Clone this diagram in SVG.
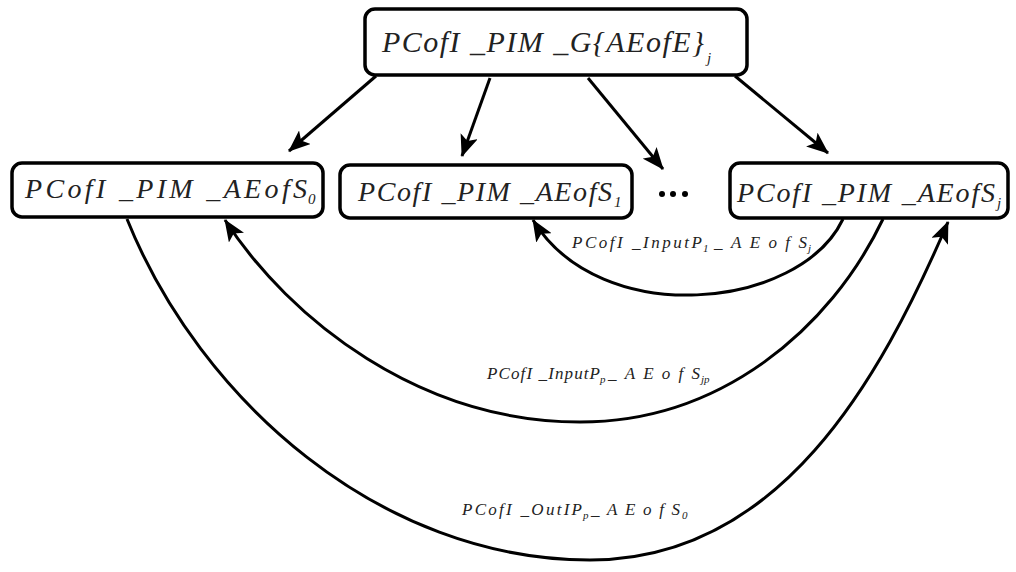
<svg xmlns="http://www.w3.org/2000/svg" width="1016" height="572" viewBox="0 0 1016 572">
<style>
.box{fill:#fff;stroke:#000;stroke-width:3.5}
.t{font-family:"Liberation Serif",serif;font-style:italic;fill:#222}
.big{font-size:28px}
.top{font-size:30px}
.bsub{font-size:15px}
.sm{font-size:17px}
.ssub{font-size:11px}
.edge{fill:none;stroke:#000;stroke-width:3;marker-end:url(#ah)}
</style>
<defs>
<marker id="ah" markerUnits="userSpaceOnUse" viewBox="0 0 22 18" markerWidth="22" markerHeight="18" refX="21" refY="9" orient="auto">
<path d="M0,0 L22,9 L0,18 L5,9 z" fill="#000"/>
</marker>
</defs>
<rect width="1016" height="572" fill="#fff"/>
<g id="connectors">
<line class="edge" x1="376" y1="76" x2="289" y2="151"/>
<line class="edge" x1="490" y1="78" x2="462" y2="156"/>
<line class="edge" x1="588" y1="78" x2="663" y2="169"/>
<line class="edge" x1="735" y1="76" x2="828" y2="153"/>
<path class="edge" d="M843,219 C800,310 600,330 533,220"/>
<path class="edge" d="M883,219 C830,330 720,422 580,422 C420,422 290,320 225,220"/>
<path class="edge" d="M127,219 C200,400 380,560 590,560 C780,560 880,380 948,222"/>
<text class="t sm" x="572" y="248" textLength="130" lengthAdjust="spacing">PCofI _InputP</text>
<text class="t ssub" x="703" y="252">1</text>
<text class="t sm" x="714" y="248" textLength="93" lengthAdjust="spacing">_AEofS</text>
<text class="t ssub" x="808" y="252">j</text>
<text class="t sm" x="487" y="379" textLength="113" lengthAdjust="spacing">PCofI _InputP</text>
<text class="t ssub" x="600" y="383">p</text>
<text class="t sm" x="608" y="379" textLength="92" lengthAdjust="spacing">_AEofS</text>
<text class="t ssub" x="701" y="383">jp</text>
<text class="t sm" x="462" y="515" textLength="120" lengthAdjust="spacing">PCofI _OutIP</text>
<text class="t ssub" x="583" y="519">p</text>
<text class="t sm" x="591" y="515" textLength="89" lengthAdjust="spacing">_AEofS</text>
<text class="t ssub" x="682" y="519">0</text>
</g>
<g id="node-top">
<rect class="box" x="365" y="9" width="382" height="66" rx="10"/>
<text class="t top" x="382" y="52" textLength="322" lengthAdjust="spacing">PCofI _PIM _G{AEofE}</text>
<text class="t bsub" x="707" y="63">j</text>
</g>
<g id="node-s0">
<rect class="box" x="12" y="163" width="311" height="54" rx="10"/>
<text class="t big" x="25" y="198" textLength="282" lengthAdjust="spacing">PCofI _PIM _AEofS</text>
<text class="t bsub" x="308" y="204">0</text>
</g>
<g id="node-s1">
<rect class="box" x="340" y="165" width="292" height="53" rx="10"/>
<text class="t big" x="358" y="201" textLength="254" lengthAdjust="spacing">PCofI _PIM _AEofS</text>
<text class="t bsub" x="614" y="207">1</text>
</g>
<g id="ellipsis">
<circle cx="662" cy="194" r="3"/>
<circle cx="673" cy="194" r="3"/>
<circle cx="685" cy="194" r="3"/>
</g>
<g id="node-sj">
<rect class="box" x="730" y="163" width="278" height="55" rx="10"/>
<text class="t big" x="737" y="202" textLength="258" lengthAdjust="spacing">PCofI _PIM _AEofS</text>
<text class="t bsub" x="997" y="208">j</text>
</g>
</svg>
